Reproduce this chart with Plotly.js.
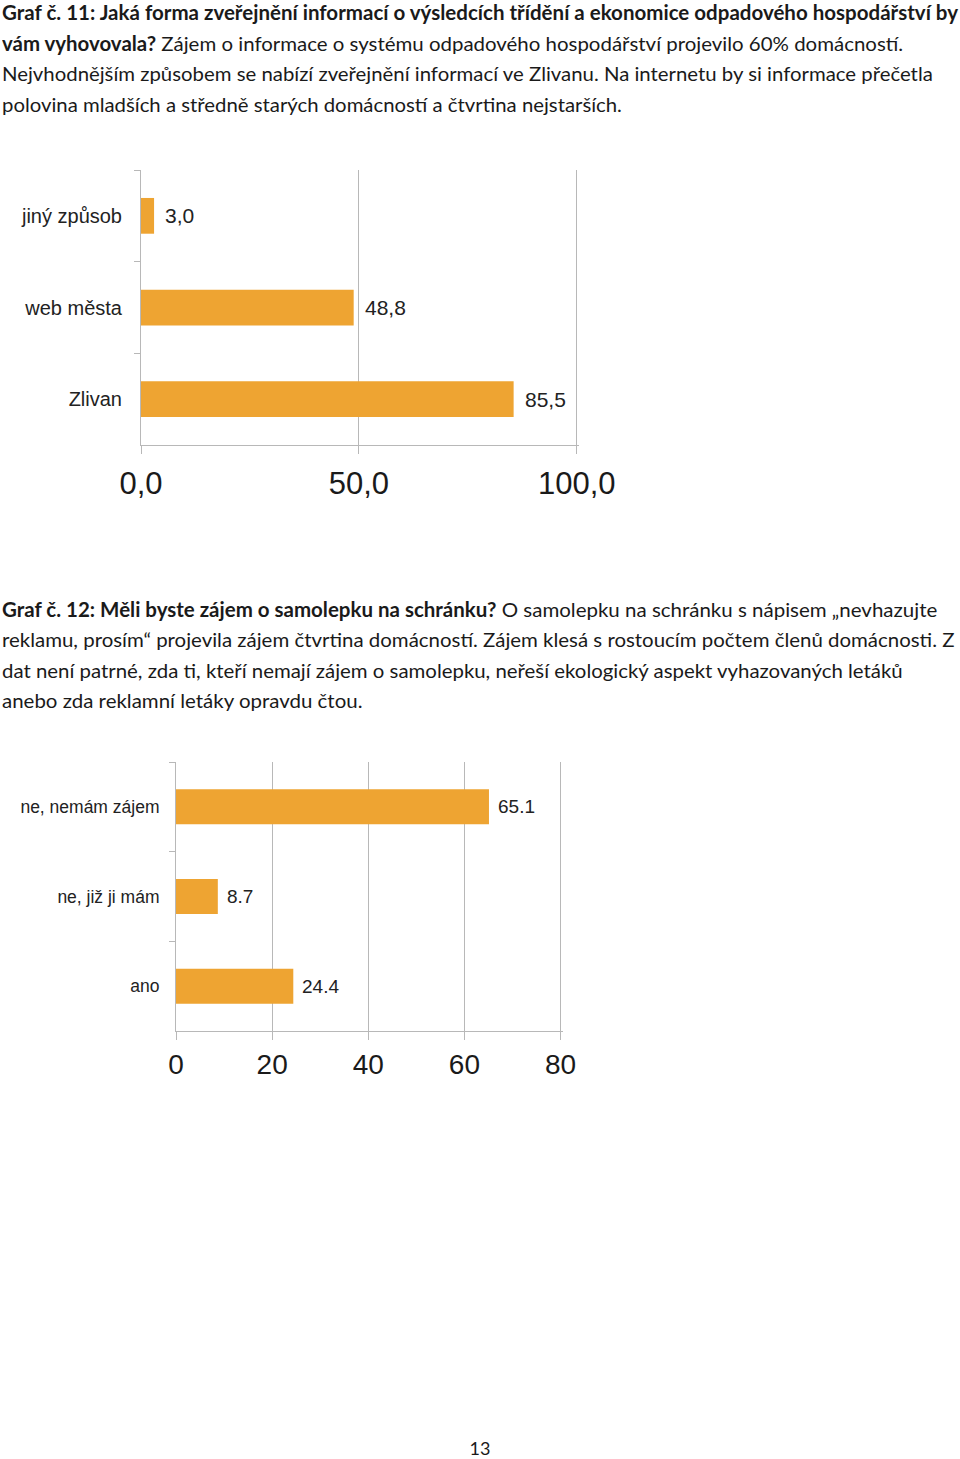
<!DOCTYPE html>
<html>
<head>
<meta charset="utf-8">
<script src="https://cdn.plot.ly/plotly-3.0.1.min.js"></script>
<style>
  html, body { margin:0; padding:0; background:#fff; }
  body { width:960px; height:1459px; position:relative; overflow:hidden; }
  .ln { position:absolute; left:2px; white-space:nowrap; font-family:Lato, "Noto Sans", sans-serif; font-size:20px; line-height:24px; color:#1a1a1a; transform-origin:0 50%; }
  .ln b { font-weight:700; }
  #c1 { position:absolute; left:0; top:150px; width:640px; height:370px; }
  #c2 { position:absolute; left:0; top:740px; width:620px; height:370px; }
  #pg { position:absolute; left:0; width:960px; top:1437px; text-align:center; font-family:Lato, sans-serif; font-size:18px; color:#1a1a1a; }
</style>
</head>
<body>
<div class="ln" data-w="956" style="top:0px"><b>Graf č. 11: Jaká forma zveřejnění informací o výsledcích třídění a ekonomice odpadového hospodářství by</b></div>
<div class="ln" data-w="901" style="top:31px"><b>vám vyhovovala?</b> Zájem o informace o systému odpadového hospodářství projevilo 60% domácností.</div>
<div class="ln" data-w="931" style="top:61px">Nejvhodnějším způsobem se nabízí zveřejnění informací ve Zlivanu. Na internetu by si informace přečetla</div>
<div class="ln" data-w="620" style="top:92px">polovina mladších a středně starých domácností a čtvrtina nejstarších.</div>

<div id="c1"></div>

<div class="ln" data-w="935" style="top:597px"><b>Graf č. 12: Měli byste zájem o samolepku na schránku?</b> O samolepku na schránku s nápisem „nevhazujte</div>
<div class="ln" data-w="953" style="top:627px">reklamu, prosím“ projevila zájem čtvrtina domácností. Zájem klesá s rostoucím počtem členů domácnosti. Z</div>
<div class="ln" data-w="901" style="top:658px">dat není patrné, zda ti, kteří nemají zájem o samolepku, neřeší ekologický aspekt vyhazovaných letáků</div>
<div class="ln" data-w="360" style="top:688px">anebo zda reklamní letáky opravdu čtou.</div>

<div id="c2"></div>
<div id="pg">13</div>

<script>
// ---- data ----
const cats1 = ["jiný způsob", "web města", "Zlivan"];
const vals1 = [3.0, 48.8, 85.5];
const ticks1 = [0, 50, 100];

const cats2 = ["ne, nemám zájem", "ne, již ji mám", "ano"];
const vals2 = [65.1, 8.7, 24.4];
const ticks2 = [0, 20, 40, 60, 80];

// ---- fit text lines ----
document.querySelectorAll('.ln').forEach(el => {
  const w = parseFloat(el.dataset.w);
  const nat = el.scrollWidth;
  el.style.transform = 'scaleX(' + (w / nat) + ')';
});

const orange = 'rgb(238,164,50)';
const gridc = '#b8b8b8';
const font = 'Liberation Sans, Arial, sans-serif';

function makeChart(id, cats, vals, ticks, range, opt) {
  const trace = {
    type: 'bar', orientation: 'h',
    x: vals, y: cats,
    marker: { color: orange, line: { width: 0 } },
    width: 0.39,
    hoverinfo: 'none'
  };
  const ann = vals.map((v, i) => ({
    x: v, y: cats[i], xref: 'x', yref: 'y',
    text: opt.fmt(v), showarrow: false, xanchor: 'left', xshift: opt.gap,
    font: { family: font, size: opt.valSize, color: '#222' }
  }));
  const layout = {
    width: opt.w, height: opt.h,
    margin: { l: opt.l, r: opt.r, t: opt.t, b: opt.b },
    paper_bgcolor: '#fff', plot_bgcolor: '#fff',
    showlegend: false,
    separators: opt.sep,
    font: { family: font, color: '#222' },
    xaxis: {
      range: range, tickvals: ticks, tickformat: opt.tickfmt,
      showgrid: true, gridcolor: gridc, gridwidth: 1,
      zeroline: false, showline: true, linecolor: gridc, linewidth: 1,
      ticks: 'outside', ticklen: 8, tickcolor: gridc, tickwidth: 1,
      tickfont: { family: font, size: opt.tickSize, color: '#1a1a1a' },
      ticklabelstandoff: opt.xstand,
      fixedrange: true
    },
    yaxis: {
      type: 'category', categoryorder: 'array', categoryarray: cats,
      autorange: 'reversed',
      showgrid: false, zeroline: false,
      showline: true, linecolor: gridc, linewidth: 1,
      ticks: 'outside', tickson: 'boundaries', ticklen: 6, tickcolor: gridc,
      tickfont: { family: font, size: opt.catSize, color: '#222' },
      ticklabelstandoff: opt.standoff,
      fixedrange: true
    },
    annotations: ann
  };
  Plotly.newPlot(id, [trace], layout, { staticPlot: true, displayModeBar: false });
}

makeChart('c1', cats1, vals1, ticks1, [0, 100.5], {
  w: 640, h: 370, l: 141, r: 61, t: 20, b: 75,
  sep: ', ', tickfmt: '.1f', tickSize: 31, catSize: 20, valSize: 21, gap: 9, standoff: 14, xstand: 3,
  fmt: v => v.toFixed(1).replace('.', ',')
});

makeChart('c2', cats2, vals2, ticks2, [0, 80.5], {
  w: 620, h: 370, l: 176, r: 57, t: 22, b: 79,
  sep: '.,', tickfmt: 'd', tickSize: 28, catSize: 17.5, valSize: 19, gap: 7, standoff: 12, xstand: 0,
  fmt: v => v.toFixed(1)
});
</script>
</body>
</html>
